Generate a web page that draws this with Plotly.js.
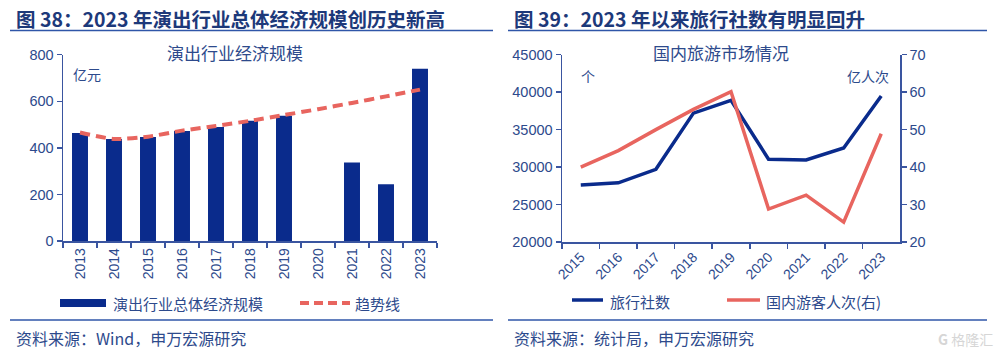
<!DOCTYPE html>
<html><head><meta charset="utf-8">
<script src="https://cdn.plot.ly/plotly-3.0.1.min.js"></script>
<style>html,body{margin:0;padding:0;background:#fff}#c{width:1000px;height:356px}</style>
</head><body><div id="c"></div>
<script>
// Left chart data
const years1 = ['2013','2014','2015','2016','2017','2018','2019','2020','2021','2022','2023'];
const scale1 = [464, 438, 447, 472, 489, 516, 538, null, 337, 244, 740];
const trend1 = [466, 438, 448, 474, 494, 516, 541, 566, 593, 621, 650];
// Right chart data
const years2 = ['2015','2016','2017','2018','2019','2020','2021','2022','2023'];
const agencies = [27600, 27900, 29700, 37200, 38900, 31050, 30950, 32550, 39500];
const tourists = [40.0, 44.4, 50.0, 55.4, 60.1, 28.8, 32.5, 25.3, 48.9];

const BLUE = '#0a2b8c', RED = '#e8655f', TXT = '#2d4a8c', AX = '#3a55a0', HEAD = '#1d397a';
const FONT = 'Liberation Sans, Arial, Noto Sans CJK SC, sans-serif';
const CJK = 'Noto Sans CJK SC, Liberation Sans, sans-serif';
const H = 356, W = 1000;
const py = v => (H - v) / H, px = v => v / W;

const traces = [
  {type:'bar', x: years1, y: scale1, xaxis:'x', yaxis:'y', marker:{color:BLUE}, width:0.47, showlegend:false, hoverinfo:'none'},
  {type:'scatter', mode:'lines', x: years1, y: trend1, xaxis:'x', yaxis:'y', line:{color:RED, width:4, dash:'10px,6px', shape:'spline', smoothing:0.6}, showlegend:false, hoverinfo:'none'},
  {type:'scatter', mode:'lines', x: years2, y: agencies, xaxis:'x2', yaxis:'y2', line:{color:BLUE, width:3.5}, showlegend:false, hoverinfo:'none'},
  {type:'scatter', mode:'lines', x: years2, y: tourists, xaxis:'x2', yaxis:'y3', line:{color:RED, width:3.5}, showlegend:false, hoverinfo:'none'}
];

const axCommon = {showgrid:false, zeroline:false, showline:true, linecolor:AX, linewidth:1.5, ticks:'outside', ticklen:5, tickwidth:1.5, tickcolor:AX, tickfont:{family:FONT, size:14.5, color:TXT}, fixedrange:true};

const layout = {
  width:W, height:H, margin:{l:0,r:0,t:0,b:0}, paper_bgcolor:'#fff', plot_bgcolor:'#fff', showlegend:false,
  xaxis: Object.assign({}, axCommon, {domain:[px(63), px(437)], type:'category', range:[-0.5,10.5], tickangle:-90, tickson:'boundaries', anchor:'y', tickfont:{family:FONT, size:14, color:TXT}}),
  yaxis: Object.assign({}, axCommon, {domain:[py(241), py(54.7)], range:[0,800], dtick:200, anchor:'x'}),
  xaxis2: Object.assign({}, axCommon, {domain:[px(562), px(900)], type:'category', range:[-0.5,8.5], tickangle:-45, tickson:'boundaries', anchor:'y2', tickfont:{family:FONT, size:14, color:TXT}}),
  yaxis2: Object.assign({}, axCommon, {domain:[py(242), py(54.7)], range:[20000,45000], dtick:5000, tickformat:'d', anchor:'x2'}),
  yaxis3: Object.assign({}, axCommon, {domain:[py(242), py(54.7)], range:[20,70], dtick:10, anchor:'x2', overlaying:'y2', side:'right'}),
  shapes: [
    {type:'line', xref:'paper', yref:'paper', x0:px(10), x1:px(493), y0:py(30.5), y1:py(30.5), line:{color:'#2f56a8', width:1.5}},
    {type:'line', xref:'paper', yref:'paper', x0:px(10), x1:px(493), y0:py(320), y1:py(320), line:{color:'#2f56a8', width:1.5}},
    {type:'line', xref:'paper', yref:'paper', x0:px(508), x1:px(987), y0:py(30.5), y1:py(30.5), line:{color:'#2f56a8', width:1.5}},
    {type:'line', xref:'paper', yref:'paper', x0:px(508), x1:px(987), y0:py(320), y1:py(320), line:{color:'#2f56a8', width:1.5}},
    // legend swatches
    {type:'line', xref:'paper', yref:'paper', x0:px(60), x1:px(106), y0:py(303), y1:py(303), line:{color:BLUE, width:8}},
    {type:'line', xref:'paper', yref:'paper', x0:px(300), x1:px(350), y0:py(303), y1:py(303), line:{color:RED, width:4, dash:'9px,5px'}},
    {type:'line', xref:'paper', yref:'paper', x0:px(572), x1:px(603), y0:py(300), y1:py(300), line:{color:BLUE, width:3.5}},
    {type:'line', xref:'paper', yref:'paper', x0:px(727), x1:px(760), y0:py(300), y1:py(300), line:{color:RED, width:3.5}}
  ],
  annotations: [
    {text:'<b>图 38：2023 年演出行业总体经济规模创历史新高</b>', xref:'paper', yref:'paper', x:px(14), y:py(18), xanchor:'left', yanchor:'middle', showarrow:false, font:{family:CJK, size:19.5, color:HEAD}},
    {text:'<b>图 39：2023 年以来旅行社数有明显回升</b>', xref:'paper', yref:'paper', x:px(512), y:py(18), xanchor:'left', yanchor:'middle', showarrow:false, font:{family:CJK, size:19.5, color:HEAD}},
    {text:'演出行业经济规模', xref:'paper', yref:'paper', x:px(235), y:py(53), xanchor:'center', yanchor:'middle', showarrow:false, font:{family:CJK, size:17, color:TXT}},
    {text:'国内旅游市场情况', xref:'paper', yref:'paper', x:px(721), y:py(53), xanchor:'center', yanchor:'middle', showarrow:false, font:{family:CJK, size:17, color:TXT}},
    {text:'亿元', xref:'paper', yref:'paper', x:px(71), y:py(74), xanchor:'left', yanchor:'middle', showarrow:false, font:{family:CJK, size:14, color:TXT}},
    {text:'个', xref:'paper', yref:'paper', x:px(579), y:py(76), xanchor:'left', yanchor:'middle', showarrow:false, font:{family:CJK, size:14, color:TXT}},
    {text:'亿人次', xref:'paper', yref:'paper', x:px(891), y:py(76), xanchor:'right', yanchor:'middle', showarrow:false, font:{family:CJK, size:14, color:TXT}},
    {text:'演出行业总体经济规模', xref:'paper', yref:'paper', x:px(111), y:py(303), xanchor:'left', yanchor:'middle', showarrow:false, font:{family:CJK, size:15, color:TXT}},
    {text:'趋势线', xref:'paper', yref:'paper', x:px(353), y:py(303), xanchor:'left', yanchor:'middle', showarrow:false, font:{family:CJK, size:15, color:TXT}},
    {text:'旅行社数', xref:'paper', yref:'paper', x:px(608), y:py(301), xanchor:'left', yanchor:'middle', showarrow:false, font:{family:CJK, size:15, color:TXT}},
    {text:'国内游客人次(右)', xref:'paper', yref:'paper', x:px(764), y:py(301), xanchor:'left', yanchor:'middle', showarrow:false, font:{family:CJK, size:15, color:TXT}},
    {text:'资料来源：Wind，申万宏源研究', xref:'paper', yref:'paper', x:px(14), y:py(338), xanchor:'left', yanchor:'middle', showarrow:false, font:{family:CJK, size:16, color:TXT}},
    {text:'资料来源：统计局，申万宏源研究', xref:'paper', yref:'paper', x:px(512), y:py(338), xanchor:'left', yanchor:'middle', showarrow:false, font:{family:CJK, size:16, color:TXT}},
    {text:'<b>G</b> 格隆汇', xref:'paper', yref:'paper', x:px(995), y:py(339), xanchor:'right', yanchor:'middle', showarrow:false, font:{family:CJK, size:14, color:'#d6d6d6'}}
  ]
};

Plotly.newPlot('c', traces, layout, {staticPlot:true, displayModeBar:false});
</script></body></html>
